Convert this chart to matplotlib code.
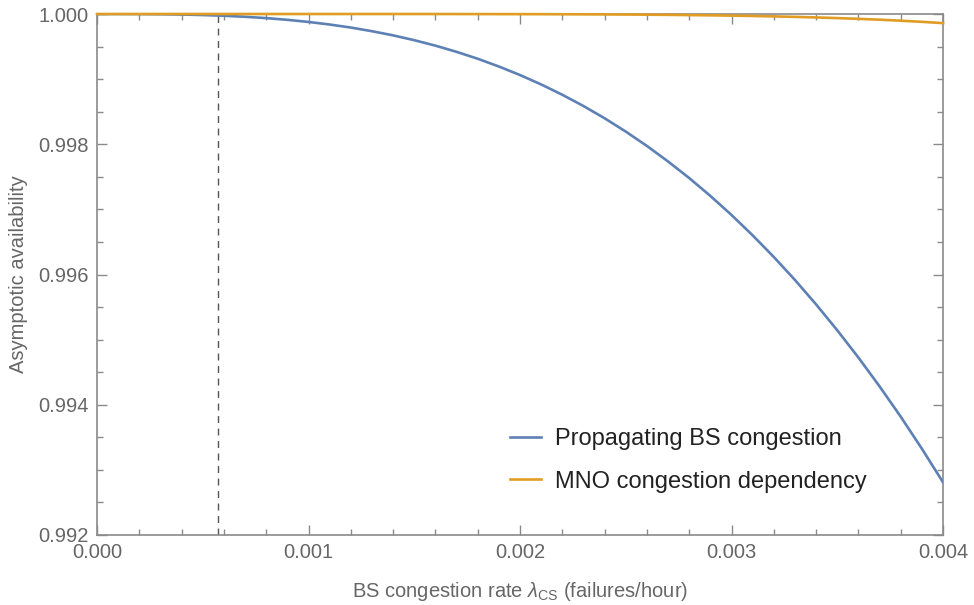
import matplotlib
matplotlib.use('Agg')
import matplotlib.pyplot as plt
from matplotlib.ticker import MultipleLocator, FormatStrFormatter

plt.rcParams['font.family'] = ['Liberation Sans', 'DejaVu Sans']
plt.rcParams['mathtext.fontset'] = 'custom'
plt.rcParams['mathtext.rm'] = 'Liberation Sans'
plt.rcParams['mathtext.it'] = 'Liberation Sans:italic'

# congestion rate (failures/hour)
rate = [0.0000, 0.0001, 0.0002, 0.0003, 0.0004, 0.0005, 0.0006, 0.0007, 0.0008, 0.0009,
        0.0010, 0.0011, 0.0012, 0.0013, 0.0014, 0.0015, 0.0016, 0.0017, 0.0018, 0.0019,
        0.0020, 0.0021, 0.0022, 0.0023, 0.0024, 0.0025, 0.0026, 0.0027, 0.0028, 0.0029,
        0.0030, 0.0031, 0.0032, 0.0033, 0.0034, 0.0035, 0.0036, 0.0037, 0.0038, 0.0039,
        0.0040]

# availability values
propagating = [1.0, 0.9999999, 0.999999, 0.9999964, 0.999992, 0.9999841, 0.999973,
               0.9999572, 0.999937, 0.9999104, 0.999878, 0.9998384, 0.999792, 0.999736,
               0.999672, 0.9995978, 0.999514, 0.999419, 0.999313, 0.999194, 0.999063,
               0.9989186, 0.998760, 0.9985872, 0.998399, 0.9981946, 0.997974, 0.9977359,
               0.997481, 0.9972067, 0.996914, 0.9966013, 0.996269, 0.9959161, 0.995541,
               0.9951439, 0.994725, 0.9942825, 0.993817, 0.9933255, 0.992810]
mno = [1.0, 1.0, 1.0, 1.0, 1.0, 1.0, 1.0, 1.0, 1.0, 1.0,
       1.0, 1.0, 1.0, 1.0, 1.0, 1.0, 0.9999996, 0.9999994, 0.9999988, 0.9999982,
       0.9999978, 0.9999971, 0.9999961, 0.9999949, 0.9999935, 0.9999917, 0.9999895,
       0.9999869, 0.9999835, 0.9999796, 0.9999751, 0.9999698, 0.9999633, 0.9999559,
       0.9999472, 0.9999371, 0.9999256, 0.9999125, 0.9998971, 0.9998798, 0.999860]

series_labels = ['Propagating BS congestion', 'MNO congestion dependency']
marker_rate = 0.00057

blue = '#5e81b5'
orange = '#e19c24'
frame_col = '#8a8a8a'
label_col = '#666666'

fig = plt.figure(figsize=(9.74, 6.05), dpi=100)
ax = fig.add_axes([97 / 974, 1 - 535 / 605, 846 / 974, 521 / 605])

ax.plot(rate, propagating, color=blue, lw=1.9, label=series_labels[0], zorder=3,
        solid_joinstyle='round')
ax.plot(rate, mno, color=orange, lw=1.9, label=series_labels[1], zorder=4, clip_on=False,
        solid_joinstyle='round')
ax.axvline(marker_rate, color='#555555', lw=1.0, ls=(0, (5, 4)), zorder=2)

ax.set_xlim(0, 0.004)
ax.set_ylim(0.992, 1.000)

ax.xaxis.set_major_locator(MultipleLocator(0.001))
ax.xaxis.set_minor_locator(MultipleLocator(0.0002))
ax.yaxis.set_major_locator(MultipleLocator(0.002))
ax.yaxis.set_minor_locator(MultipleLocator(0.0005))
ax.xaxis.set_major_formatter(FormatStrFormatter('%.3f'))
ax.yaxis.set_major_formatter(FormatStrFormatter('%.3f'))

ax.tick_params(which='both', direction='in', top=True, right=True, color=frame_col,
               labelsize=14.5, labelcolor=label_col, width=1.0)
ax.tick_params(which='major', length=7, pad=6)
ax.tick_params(which='minor', length=4)

for s in ax.spines.values():
    s.set_color(frame_col)
    s.set_linewidth(1.2)

ax.set_xlabel(r'BS congestion rate $\lambda_{\mathrm{CS}}$ (failures/hour)',
              fontsize=14.5, color=label_col, labelpad=13)
ax.set_ylabel('Asymptotic availability', fontsize=14.5, color=label_col, labelpad=7)

leg = ax.legend(loc='center left', bbox_to_anchor=(0.488, 0.143), frameon=False,
                fontsize=17, handlelength=1.3, handletextpad=0.6, labelspacing=0.85,
                borderpad=0, borderaxespad=0)
for t in leg.get_texts():
    t.set_color('#222222')

fig.savefig('out.png', dpi=100)
plt.close()
